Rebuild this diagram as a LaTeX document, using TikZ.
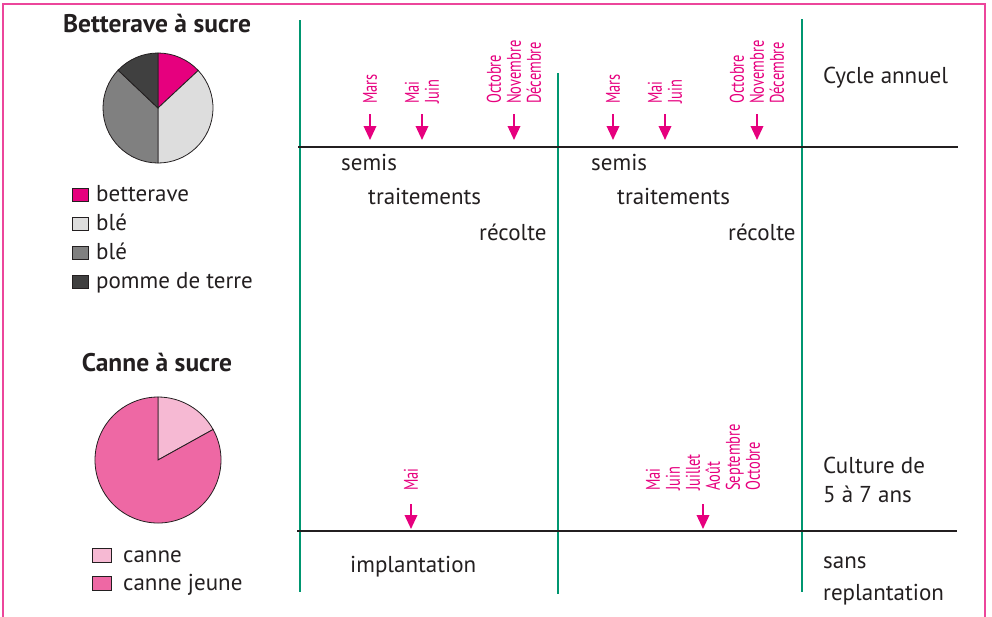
\documentclass[tikz,border=0pt]{standalone}
\usepackage{fontspec}
\setmainfont{PT Sans}
\newfontfamily\moisfont[FakeStretch=0.73]{PT Sans}
\usetikzlibrary{arrows.meta}
\usetikzlibrary{positioning}
\definecolor{rosefonce}{RGB}{230,0,126}
\definecolor{rosecadre}{RGB}{236,70,155}
\definecolor{vertligne}{RGB}{0,150,112}
\definecolor{rosecanne}{RGB}{238,104,164}
\definecolor{roseclair}{RGB}{246,185,211}
\definecolor{texte}{RGB}{35,31,32}
\definecolor{grisclair}{RGB}{221,221,221}
\definecolor{grismoyen}{RGB}{128,128,128}
\definecolor{grisfonce}{RGB}{64,64,64}

\begin{document}
\begin{tikzpicture}[x=1pt,y=-1pt]
  \tikzset{
    txt/.style={anchor=base west,inner sep=0,text=texte,font=\fontsize{23}{29}\selectfont},
    titre/.style={anchor=base,inner sep=0,text=texte,font=\fontsize{25.5}{29}\selectfont\bfseries},
    mois/.style={rotate=90,anchor=west,inner sep=0,align=left,text=rosefonce,
      font=\moisfont\fontsize{19.8}{20}\selectfont},
    fleche/.style={rosefonce,line width=2pt,-{Triangle[length=14pt,width=12.5pt]}},
    separ/.style={vertligne,line width=1.8pt},
    ligne/.style={texte,line width=1.5pt},
    case/.style={draw=texte,line width=0.8pt},
    part/.style={draw=texte,line width=0.8pt},
  }
  \useasboundingbox (0,0) rectangle (992,616);
  %CADRE
  \draw[rosecadre,line width=1.2pt] (3,625) -- (3,4) -- (985,4) -- (985,625);
  %TITRES
  \node[titre] (bett) at (157,32) {Betterave à sucre};
  \node[titre] (canne) at (157,371) {Canne à sucre};
  %CAMEMBERT 1
  \begin{scope}[shift={(158pt,-108pt)},x=1pt,y=1pt]
    \filldraw[part,fill=rosefonce] (0,0) -- (90:55) arc[start angle=90,end angle=43,radius=55] -- cycle;
    \filldraw[part,fill=grisclair] (0,0) -- (43:55) arc[start angle=43,end angle=-90,radius=55] -- cycle;
    \filldraw[part,fill=grismoyen] (0,0) -- (-90:55) arc[start angle=-90,end angle=-223.5,radius=55] -- cycle;
    \filldraw[part,fill=grisfonce] (0,0) -- (136.5:55) arc[start angle=136.5,end angle=90,radius=55] -- cycle;
  \end{scope}
  %LEGENDE 1
  \foreach \c/\txt/\y [count=\i] in {rosefonce/betterave/201,grisclair/blé/230,grismoyen/blé/259,grisfonce/pomme de terre/288}{
    \draw[case,fill=\c] (72,\y-12.5) rectangle (88,\y);
    \node[txt] (lb\i) at (96,\y) {\txt};
  }
  %CAMEMBERT 2
  \begin{scope}[shift={(158pt,-460pt)},x=1pt,y=1pt]
    \filldraw[part,fill=roseclair] (0,0) -- (90:63) arc[start angle=90,end angle=29,radius=63] -- cycle;
    \filldraw[part,fill=rosecanne] (0,0) -- (29:63) arc[start angle=29,end angle=-270,radius=63] -- cycle;
  \end{scope}
  %LEGENDE 2
  \foreach \c/\txt/\y [count=\i] in {roseclair/canne/562,rosecanne/canne jeune/590}{
    \draw[case,fill=\c] (92,\y-13.5) rectangle (111,\y);
    \node[txt] (lc\i) at (123,\y) {\txt};
  }
  %LIGNES
  \draw[separ] (300,20) -- (300,592);
  \draw[separ] (558,73) -- (558,594);
  \draw[separ] (802,19) -- (802,592);
  \draw[ligne] (298,147) -- (958,147);
  \draw[ligne] (297,531) -- (957,531);
  \coordinate (haut) at (0,140);
  \coordinate (bas) at (0,529);
  %MOIS HAUT
  \foreach \x/\txt [count=\i] in {370/Mars,422/{Mai\\Juin},514/{Octobre\\Novembre\\Décembre},
    613/Mars,665/{Mai\\Juin},757/{Octobre\\Novembre\\Décembre}}{
    \node[mois] (mh\i) at (\x,104) {\txt};
    \draw[fleche] ([yshift=-10pt]mh\i.west) -- (mh\i.west |- haut);
  }
  %MOIS BAS
  \node[mois] (mb1) at (411,491) {Mai};
  \draw[fleche] ([yshift=-13pt]mb1.west) -- (mb1.west |- bas);
  \node[mois] (mb2) at (703,491) {Mai\\Juin\\Juillet\\Août\\Septembre\\Octobre};
  \draw[fleche] ([yshift=-13pt]mb2.west) -- (mb2.west |- bas);
  %ETAPES
  \node[txt] (semis1) at (341,170) {semis};
  \node[txt] (trait1) at (368,204) {traitements};
  \node[txt] (recol1) at (479,240) {récolte};
  \node[txt] (semis2) at (591,170) {semis};
  \node[txt] (trait2) at (617,204) {traitements};
  \node[txt] (recol2) at (728,240) {récolte};
  \node[txt] (impl) at (350,572) {implantation};
  %COLONNE DROITE
  \node[txt] (cycle) at (823,83) {Cycle annuel};
  \node[txt] (cult1) at (823,473) {Culture de};
  \node[txt] (cult2) at (823,502) {5 à 7 ans};
  \node[txt] (sans1) at (823,568) {sans};
  \node[txt] (sans2) at (823,600) {replantation};
\end{tikzpicture}
\end{document}
